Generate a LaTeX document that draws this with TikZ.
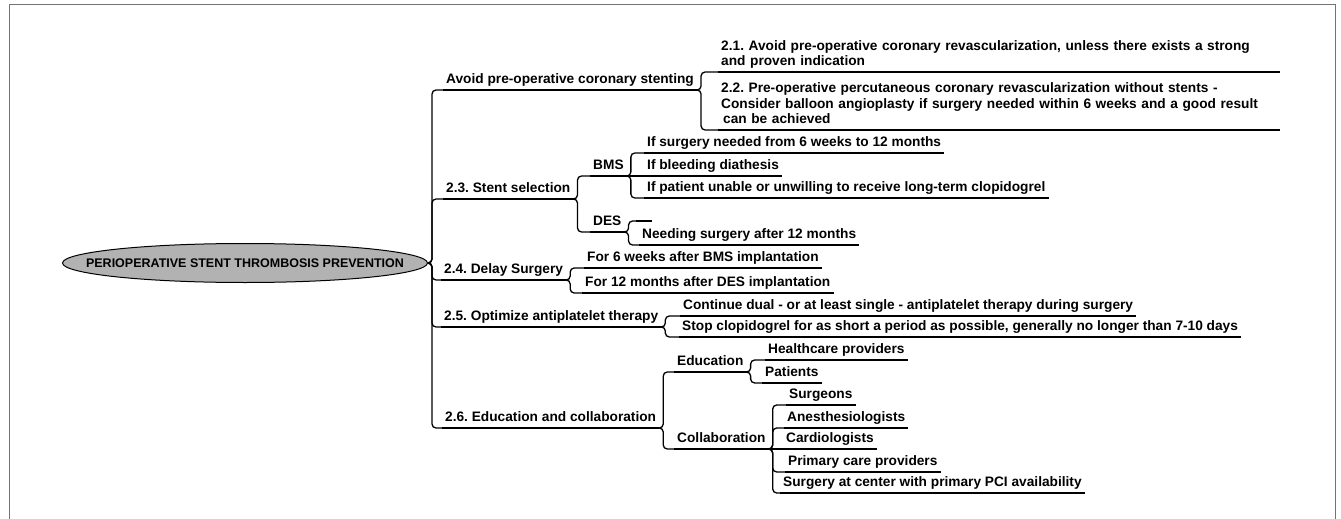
\documentclass[tikz,border=0pt]{standalone}
\usepackage{fontspec}
\setmainfont{Liberation Sans}
\usetikzlibrary{shapes.geometric}
\frenchspacing

\tikzset{
  topic/.style={anchor=south west, inner xsep=3pt, inner ysep=2.5pt,
    text depth=3.5pt, align=left, text=black,
    font=\bfseries\fontsize{13.7}{15.5}\selectfont},
  note/.style={topic, text depth=, text width=556pt},
  link/.style={line width=1.3pt, rounded corners=4pt},
  branch/.style={to path={-- ++(4,0) |- (\tikztotarget)}},
}
\newcommand{\lastline}{\rule[-3.5pt]{0pt}{0pt}}

\begin{document}
\begin{tikzpicture}[x=1pt, y=-1pt]
  \useasboundingbox (0,0) rectangle (1341,519);
  % frame
  \draw[black!55, line width=1pt] (9,519) -- (9,5) -- (1335,5) -- (1335,519);

  % root
  \node[ellipse, draw, line width=1pt, fill=black!30, minimum width=365pt,
    minimum height=39pt, inner sep=0pt, text=black,
    font=\bfseries\fontsize{12.5}{14}\selectfont] (root) at (245,263)
    {\makebox[0pt]{PERIOPERATIVE STENT THROMBOSIS PREVENTION}};

  % first level
  \node[topic] (avoid) at (443,90) {Avoid pre-operative coronary stenting};
  \node[topic] (sel) at (443,199) {2.3. Stent selection};
  \node[topic] (delay) at (441,280) {2.4. Delay Surgery};
  \node[topic] (opt) at (441,327) {2.5. Optimize antiplatelet therapy};
  \node[topic] (educoll) at (442,428) {2.6. Education and collaboration};

  % avoid stenting
  \node[note] (s21) at (718,72)
    {2.1. Avoid pre-operative coronary revascularization, unless there exists a strong\\
     and proven indication\lastline};
  \node[note] (s22) at (718,130)
    {2.2. Pre-operative percutaneous coronary revascularization without stents -\\
     Consider balloon angioplasty if surgery needed within 6 weeks and a good result\\
     \hspace*{2pt}can be achieved\lastline};

  % stent selection
  \node[topic] (bms) at (590,176) {BMS};
  \node[topic] (des) at (590,232) {DES};
  \node[topic] (sixw) at (644,153) {If surgery needed from 6 weeks to 12 months};
  \node[topic] (bleed) at (644,176) {If bleeding diathesis};
  \node[topic] (unable) at (644,198) {If patient unable or unwilling to receive long-term clopidogrel};
  \node[topic, minimum width=16pt] (desx) at (636,221) {};
  \node[topic] (after12) at (639,245) {Needing surgery after 12 months};

  % delay surgery
  \node[topic] (bms6) at (584,268) {For 6 weeks after BMS implantation};
  \node[topic] (des12) at (582,293) {For 12 months after DES implantation};

  % antiplatelet therapy
  \node[topic] (dual) at (680,316) {Continue dual - or at least single - antiplatelet therapy during surgery};
  \node[topic] (stop) at (679,337) {Stop clopidogrel for as short a period as possible, generally no longer than 7-10 days};

  % education and collaboration
  \node[topic] (edu) at (674,372) {Education};
  \node[topic] (coll) at (674,449) {Collaboration};
  \node[topic] (hcp) at (765,360) {Healthcare providers};
  \node[topic] (pat) at (762,383) {Patients};
  \node[topic] (surg) at (786,405) {Surgeons};
  \node[topic] (anest) at (784,428) {Anesthesiologists};
  \node[topic] (cardio) at (783,449) {Cardiologists};
  \node[topic] (pcp) at (785,472) {Primary care providers};
  \node[topic] (pci) at (780,493) {Surgery at center with primary PCI availability};

  % underlines
  \foreach \n in {avoid,sel,delay,opt,educoll,s21,s22,bms,des,sixw,bleed,unable,
      desx,after12,bms6,des12,dual,stop,edu,coll,hcp,pat,surg,anest,cardio,pcp,pci}
    \draw[line width=1.3pt] (\n.south west) -- (\n.south east);

  % connectors
  \foreach \c in {avoid,sel,delay,opt,educoll}
    \draw[link] (root.east) to[branch] (\c.south west);
  \foreach \p/\c in {avoid/s21,avoid/s22,sel/bms,sel/des,bms/sixw,bms/unable,
      des/desx,des/after12,delay/bms6,delay/des12,opt/dual,opt/stop,
      educoll/edu,educoll/coll,edu/hcp,edu/pat,coll/surg,coll/anest,coll/pcp,coll/pci}
    \draw[link] (\p.south east) to[branch] (\c.south west);
  \draw[link] (bms.south east) -- (bleed.south west);
  \draw[link] (coll.south east) -- (cardio.south west);
\end{tikzpicture}
\end{document}
